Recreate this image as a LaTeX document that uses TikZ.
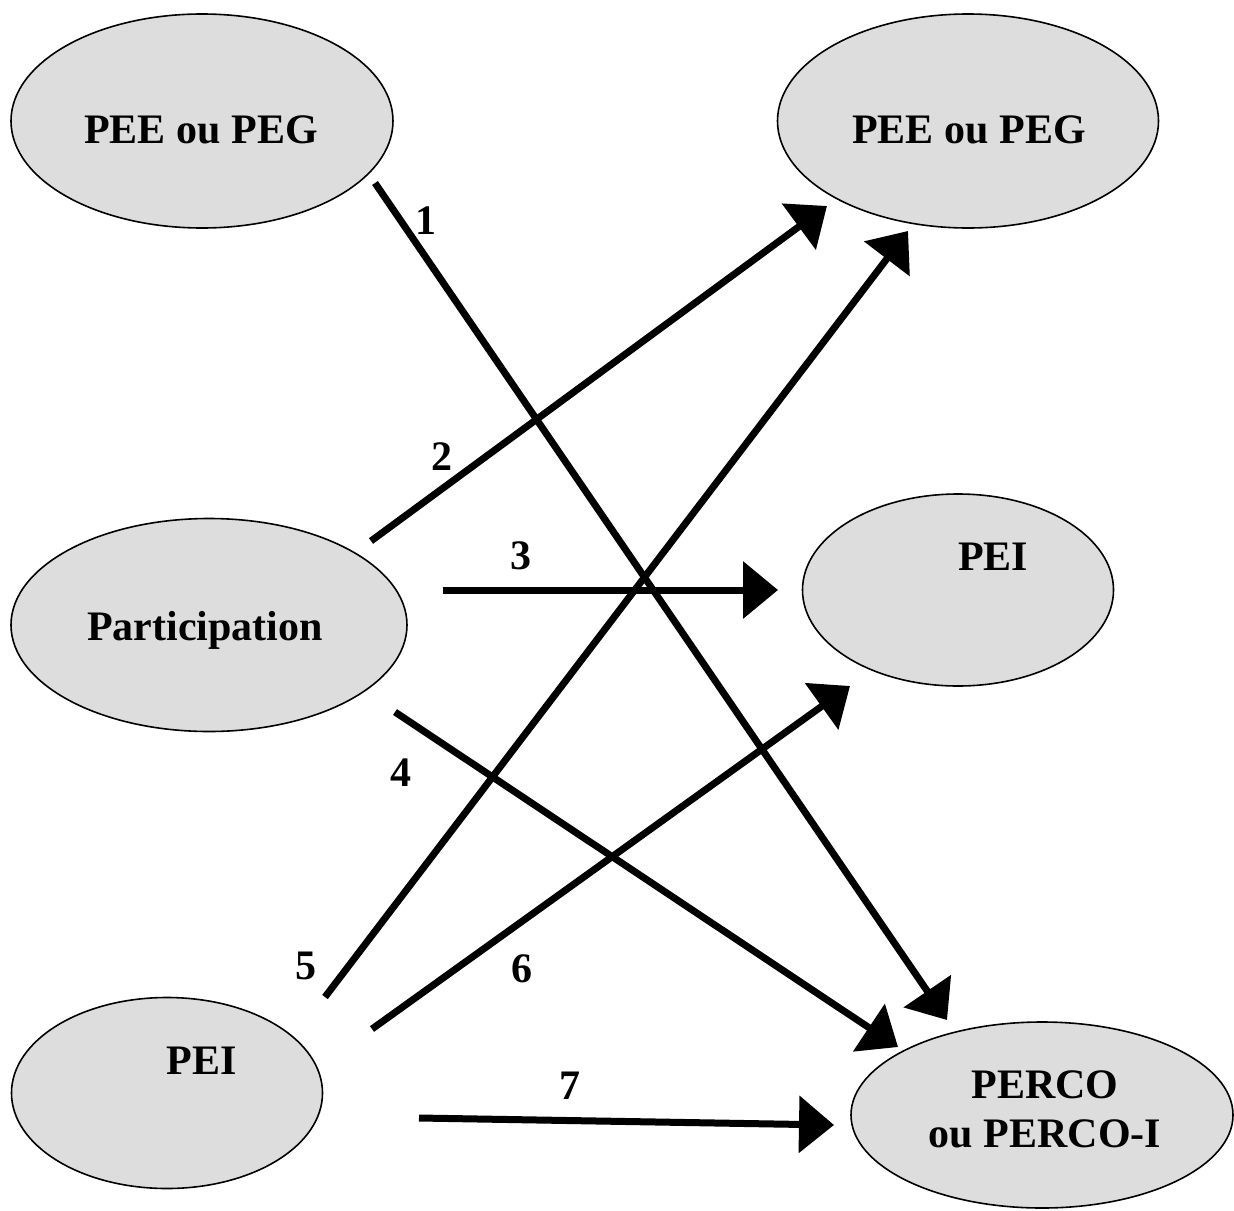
\documentclass[tikz,border=0pt]{standalone}
\usepackage{fontspec}
\setmainfont{Liberation Serif}
\usetikzlibrary{shapes.geometric,arrows.meta}
\definecolor{bubblegray}{RGB}{221,221,221}
\begin{document}
\begin{tikzpicture}[x=1pt,y=-1pt,
  bubble/.style={ellipse,draw=black,line width=1.6pt,fill=bubblegray,inner sep=0pt},
  txt/.style={font=\fontsize{42}{49}\selectfont\bfseries,inner sep=0pt,anchor=base},
  num/.style={font=\fontsize{42}{49}\selectfont\bfseries,inner sep=0pt},
  flow/.style={line width=7pt,-{Triangle[length=35pt,width=56pt]}}]
\useasboundingbox (0,0) rectangle (1234,1210);

% ellipses
\node[bubble,minimum width=382pt,minimum height=214pt] (peeL) at (202,121) {};
\node[bubble,minimum width=381pt,minimum height=214pt] (peeR) at (968,121) {};
\node[bubble,minimum width=396pt,minimum height=213pt] (part) at (209,625) {};
\node[bubble,minimum width=311pt,minimum height=192pt] (peiR) at (958,590) {};
\node[bubble,minimum width=311pt,minimum height=191pt] (peiL) at (167,1093) {};
\node[bubble,minimum width=382pt,minimum height=186pt] (perco) at (1042,1115) {};

% texts
\node[txt] (tpeeL) at (201,143) {PEE ou PEG};
\node[txt] (tpeeR) at (969,143) {PEE ou PEG};
\node[txt] (tpart) at (205,640) {Participation};
\node[txt] (tpeiR) at (993,570) {PEI};
\node[txt] (tpeiL) at (202,1074) {PEI};
\node[txt] (tperco1) at (1045,1098) {PERCO};
\node[txt] (tperco2) at (1045,1147) {ou PERCO-I};

% connector end points
\coordinate (s1) at (375,183);  \coordinate (t1) at (947,1020);
\coordinate (s2) at (371,541);  \coordinate (t2) at (827,206);
\coordinate (s3) at (443,590);  \coordinate (t3) at (778,590);
\coordinate (s4) at (395,712);  \coordinate (t4) at (898,1047);
\coordinate (s5) at (325,997);  \coordinate (t5) at (908,231);
\coordinate (s6) at (372,1029); \coordinate (t6) at (850,686);
\coordinate (s7) at (419,1118); \coordinate (t7) at (834,1125);

% connectors
\draw[flow] (s1) -- (t1);
\draw[flow] (s2) -- (t2);
\draw[flow] (s3) -- (t3);
\draw[flow] (s4) -- (t4);
\draw[flow] (s5) -- (t5);
\draw[flow] (s6) -- (t6);
\draw[flow] (s7) -- (t7);

% numbers
\node[num] (n1) at (426,221) {1};
\node[num] (n2) at (442,457) {2};
\node[num] (n3) at (521,556) {3};
\node[num] (n4) at (401,773) {4};
\node[num] (n5) at (306,966) {5};
\node[num] (n6) at (522,969) {6};
\node[num] (n7) at (570,1086) {7};
\end{tikzpicture}
\end{document}
